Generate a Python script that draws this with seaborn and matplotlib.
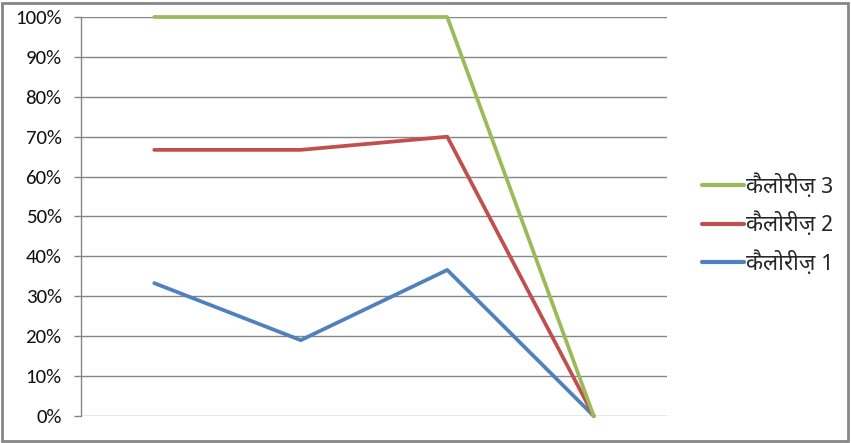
import matplotlib
matplotlib.use("Agg")
import pandas as pd
import matplotlib.pyplot as plt
import matplotlib.ticker as ticker
import seaborn as sns
from matplotlib.patches import Rectangle

# values (fraction of 1)
categories = ["1", "2", "3", "4"]
series_names = ["कैलोरीज़ 1", "कैलोरीज़ 2", "कैलोरीज़ 3"]
cal_1 = [0.333, 0.19, 0.366, 0.0]
cal_2 = [0.667, 0.667, 0.70, 0.0]
cal_3 = [1.0, 1.0, 1.0, 0.0]
colors = ["#4F81BD", "#C0504D", "#9BBB59"]

rows = []
for name, vals in zip(series_names, [cal_1, cal_2, cal_3]):
    for i, (c, v) in enumerate(zip(categories, vals)):
        rows.append({"pos": i, "cat": c, "series": name, "value": v})
df = pd.DataFrame(rows)

sns.set_style("white")
plt.rcParams["font.family"] = ["Carlito", "Liberation Sans", "DejaVu Sans"]
dev_font = ["Noto Sans Devanagari", "Ek Mukta", "Liberation Sans", "DejaVu Sans"]

fig = plt.figure(figsize=(8.51, 4.43), dpi=100)
ax = fig.add_axes([81 / 851, 27 / 443, 586 / 851, 399 / 443])

sns.lineplot(data=df, x="pos", y="value", hue="series", hue_order=series_names,
             palette=colors, linewidth=2.7, ax=ax, legend=True, clip_on=False)

grid_c = "#868686"
ax.set_xlim(-0.5, 3.5)
ax.set_ylim(0, 1)
ax.yaxis.set_major_locator(ticker.MultipleLocator(0.1))
ax.yaxis.set_major_formatter(ticker.PercentFormatter(1.0, decimals=0))
ax.set_xticks([])
ax.set_xlabel("")
ax.set_ylabel("")
ax.grid(axis="y", color=grid_c, linewidth=1)
ax.set_axisbelow(True)
for s in ["top", "right", "bottom"]:
    ax.spines[s].set_visible(False)
ax.spines["left"].set_color(grid_c)
ax.spines["left"].set_linewidth(1)
ax.tick_params(axis="y", length=5, width=1, color=grid_c, labelsize=15,
               labelcolor="#111111", pad=9, left=True)

handles, labels = ax.get_legend_handles_labels()
leg = ax.legend(handles[::-1], labels[::-1], loc="center left",
                bbox_to_anchor=(0.801, 0.494), bbox_transform=fig.transFigure,
                frameon=False, handlelength=1.9, handletextpad=0.1,
                labelspacing=0.62, prop={"family": dev_font, "size": 16})
for line in leg.get_lines():
    line.set_linewidth(3)

# outer chart border
fig.patches.append(Rectangle((2 / 851, 2 / 443), 846 / 851, 438 / 443,
                             transform=fig.transFigure, fill=False,
                             edgecolor=grid_c, linewidth=2))

fig.savefig("out.png", dpi=100)
